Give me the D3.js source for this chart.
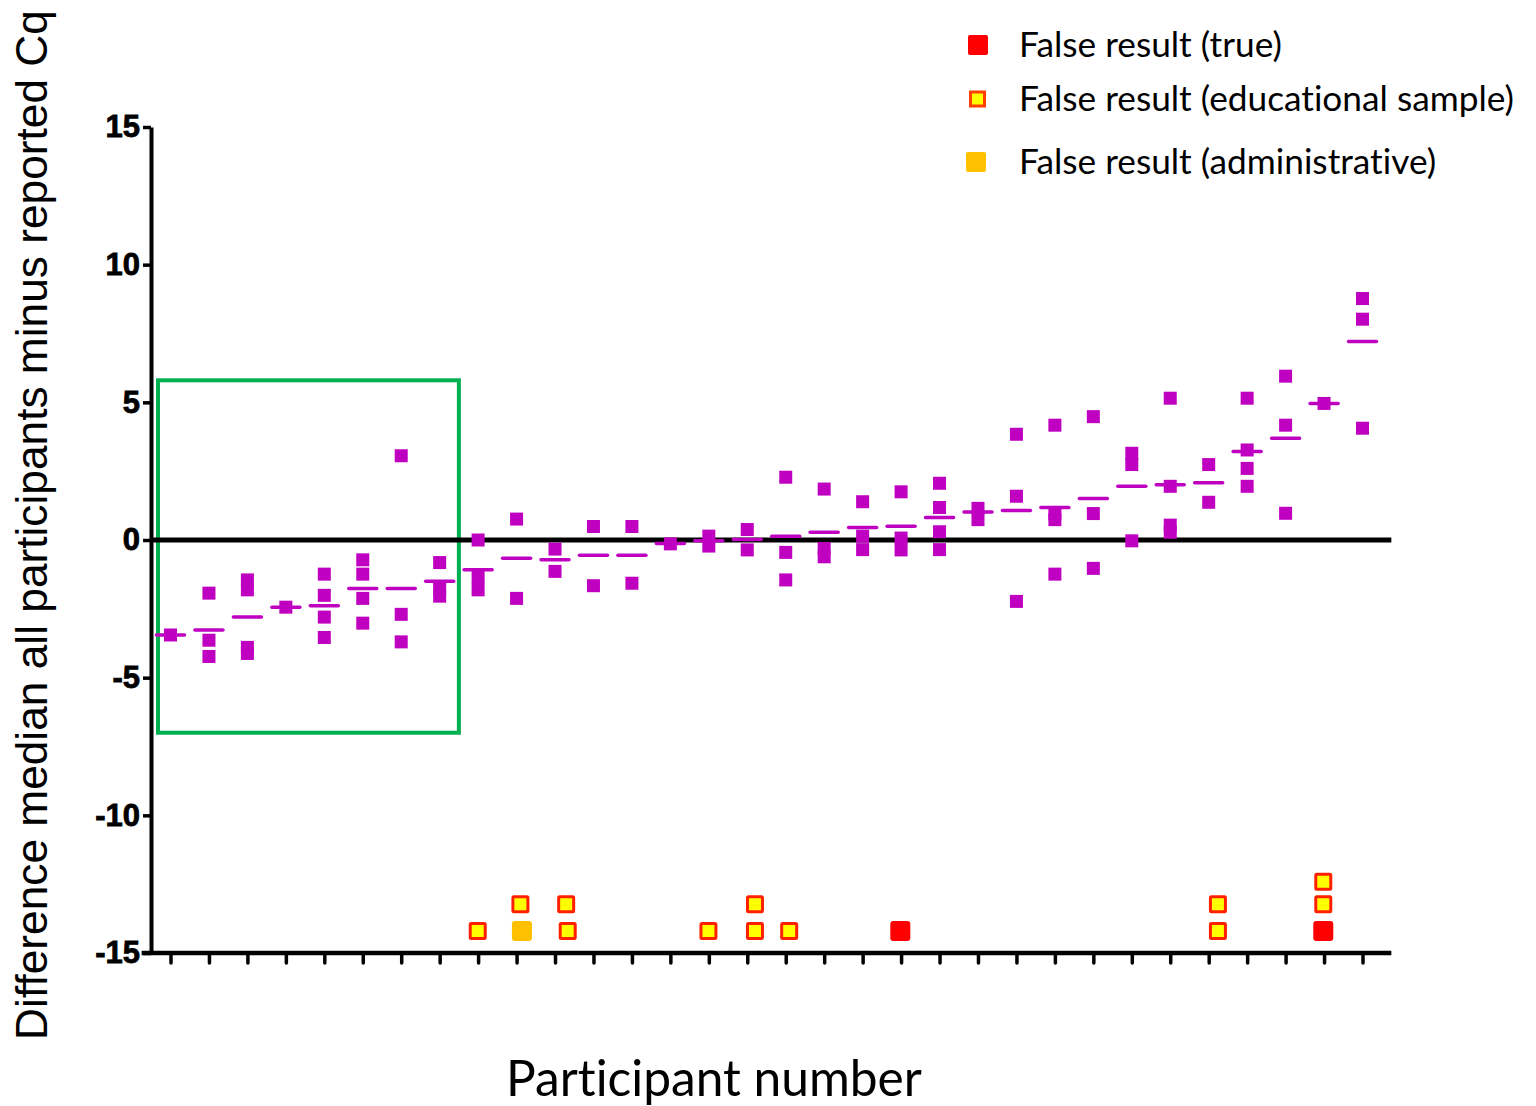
<!DOCTYPE html>
<html><head><meta charset="utf-8">
<script src="https://cdn.jsdelivr.net/npm/d3@7"></script>
<style>html,body{margin:0;padding:0;background:#fff;} svg{display:block;} text{font-variant-ligatures:none;font-feature-settings:"liga" 0,"clig" 0,"dlig" 0,"calt" 0,"hlig" 0;}</style>
</head><body>
<svg id="chart" width="1536" height="1106"></svg>
<script>
// ---------------- DATA ----------------
const participants = d3.range(1, 33);
const participantValues = [
  [-3.45],
  [-1.93, -3.64, -4.23],
  [-1.45, -1.81, -3.9, -4.12],
  [-2.44],
  [-1.24, -2.01, -2.8, -3.54],
  [-0.72, -1.24, -2.12, -3.02],
  [3.06, -2.7, -3.7],
  [-0.82, -1.77, -2.04],
  [0.0, -1.36, -1.81],
  [0.76, -2.12],
  [-0.33, -1.14],
  [0.49, -1.66],
  [0.49, -1.57],
  [-0.14],
  [0.14, -0.22],
  [0.38, -0.36],
  [2.28, -0.45, -1.45],
  [1.85, -0.31, -0.61],
  [1.39, 0.14, -0.35],
  [1.75, 0.07, -0.36],
  [2.06, 1.18, 0.3, -0.35],
  [1.15, 0.74],
  [3.84, 1.59, -2.23],
  [4.17, 0.95, 0.74, -1.24],
  [4.48, 0.96, -1.03],
  [3.15, 2.74, -0.03],
  [5.15, 1.95, 0.54, 0.28],
  [2.74, 1.37],
  [5.15, 3.27, 2.6, 1.95],
  [5.95, 4.17, 0.97],
  [4.96],
  [8.77, 8.02, 4.06]
];
const participantMedians = [
  -3.45, -3.27, -2.8, -2.44, -2.39, -1.76, -1.76, -1.5,
  -1.08, -0.66, -0.72, -0.55, -0.55, -0.13, -0.03, 0.02,
  0.14, 0.28, 0.45, 0.5, 0.82, 1.02, 1.07, 1.18,
  1.51, 1.95, 2.01, 2.08, 3.21, 3.7, 4.96, 7.21
];
// false results: [participant position, value]
const falseEducational = [
  [8.99, -14.2], [10.1, -13.23], [11.29, -13.23], [11.33, -14.2],
  [14.99, -14.2], [16.2, -13.23], [16.2, -14.2], [17.09, -14.2],
  [28.24, -13.23], [28.24, -14.2], [30.98, -13.23], [30.98, -12.41]
];
const falseTrue = [[19.98, -14.2], [30.98, -14.2]];
const falseAdministrative = [[10.14, -14.2]];
const yTicks = [-15, -10, -5, 0, 5, 10, 15];
const highlightBox = [0.675, 8.5, -7.0, 5.8]; // x from, x to, y from, y to
const legendLabels = ["False result (true)", "False result (educational sample)", "False result (administrative)"];
const yTitle = "Difference median all participants minus reported Cq";
const xTitle = "Participant number";

// ---------------- DRAW ----------------
const svg = d3.select("#chart");
svg.append("rect").attr("width", 1536).attr("height", 1106).attr("fill", "#fff");

const x = d3.scaleLinear().domain([1, 32]).range([170.5, 1362.5]);
const y = d3.scaleLinear().domain([-15, 15]).range([953, 127]);

const MAG = "#C000C0";
const NOLIG = 'font-variant-ligatures:none;font-feature-settings:"liga" 0,"clig" 0,"dlig" 0,"calt" 0;';

function fitText(sel, target) {
  const w = sel.node().getComputedTextLength();
  const fs = parseFloat(sel.attr("font-size"));
  sel.attr("font-size", fs * target / w);
  return fs * target / w;
}

// highlight box
svg.append("rect")
  .attr("x", x(highlightBox[0])).attr("y", y(highlightBox[3]))
  .attr("width", x(highlightBox[1]) - x(highlightBox[0]))
  .attr("height", y(highlightBox[2]) - y(highlightBox[3]))
  .attr("fill", "none").attr("stroke", "#00B050").attr("stroke-width", 4);

// zero line
svg.append("line")
  .attr("x1", x(0.5)).attr("x2", x(32.75))
  .attr("y1", y(0)).attr("y2", y(0))
  .attr("stroke", "#000").attr("stroke-width", 5);

// y axis
const yAxis = svg.append("g").attr("transform", "translate(151,0)")
  .call(d3.axisLeft(y).tickValues(yTicks).tickSize(8).tickSizeOuter(0).tickFormat(d => String(d)));
yAxis.select(".domain").attr("stroke-width", 4).attr("stroke", "#000");
yAxis.selectAll(".tick line").attr("stroke-width", 3.5).attr("stroke", "#000");
yAxis.selectAll(".tick text")
  .attr("x", -11).attr("font-family", "'Liberation Sans', Arial, sans-serif")
  .attr("font-weight", "bold").attr("font-size", 31).attr("fill", "#000")
  .attr("stroke", "#000").attr("stroke-width", 0.8);

// x axis
const xAxis = svg.append("g").attr("transform", "translate(0,953)")
  .call(d3.axisBottom(x).tickValues(participants).tickSize(10).tickSizeOuter(0).tickFormat(""));
xAxis.select(".domain").remove();
xAxis.selectAll(".tick line").attr("stroke-width", 3.5).attr("stroke", "#000").attr("stroke-linecap", "round");
svg.append("line")
  .attr("x1", x(0.25)).attr("x2", x(32.75))
  .attr("y1", 953).attr("y2", 953)
  .attr("stroke", "#000").attr("stroke-width", 4.5);

// points
const pts = participantValues.flatMap((vals, i) => vals.map(v => ({ p: participants[i], v })));
const S = 13;
svg.append("g").selectAll("rect").data(pts).join("rect")
  .attr("x", d => x(d.p) - S / 2).attr("y", d => y(d.v) - S / 2)
  .attr("width", S).attr("height", S).attr("fill", MAG);

// medians
svg.append("g").selectAll("line").data(participantMedians).join("line")
  .attr("x1", (d, i) => x(participants[i]) - 14).attr("x2", (d, i) => x(participants[i]) + 14)
  .attr("y1", d => y(d)).attr("y2", d => y(d))
  .attr("stroke", MAG).attr("stroke-width", 3.5).attr("stroke-linecap", "round");

// false results
svg.append("g").selectAll("rect").data(falseEducational).join("rect")
  .attr("x", d => x(d[0]) - 7.5).attr("y", d => y(d[1]) - 7.5)
  .attr("width", 15).attr("height", 15).attr("rx", 1)
  .attr("fill", "#FFFF00").attr("stroke", "#FF2000").attr("stroke-width", 3);
svg.append("g").selectAll("rect").data(falseTrue).join("rect")
  .attr("x", d => x(d[0]) - 10).attr("y", d => y(d[1]) - 10)
  .attr("width", 20).attr("height", 20).attr("rx", 3).attr("fill", "#FF0000");
svg.append("g").selectAll("rect").data(falseAdministrative).join("rect")
  .attr("x", d => x(d[0]) - 10).attr("y", d => y(d[1]) - 10)
  .attr("width", 20).attr("height", 20).attr("rx", 3).attr("fill", "#FFC000");

// y title
const yt = svg.append("text")
  .attr("transform", "translate(47,525) rotate(-90)")
  .attr("text-anchor", "middle")
  .attr("font-family", "'Liberation Sans', Arial, sans-serif")
  .attr("font-size", 44).attr("fill", "#000").text(yTitle);
fitText(yt, 1030);

// x title
const xt = svg.append("text")
  .attr("x", 714).attr("y", 1096).attr("text-anchor", "middle")
  .attr("style", NOLIG)
  .attr("font-family", "Lato, 'Open Sans', sans-serif")
  .attr("font-size", 48).attr("fill", "#000").text(xTitle);
fitText(xt, 416);

// legend
const legendY = [45, 99, 162];
const lg = svg.append("g");
lg.append("rect").attr("x", 968).attr("y", legendY[0] - 10).attr("width", 20).attr("height", 20).attr("rx", 2).attr("fill", "#FF0000");
lg.append("rect").attr("x", 970.5).attr("y", legendY[1] - 7).attr("width", 14).attr("height", 14)
  .attr("fill", "#FFFF00").attr("stroke", "#FF4000").attr("stroke-width", 3);
lg.append("rect").attr("x", 966).attr("y", legendY[2] - 10).attr("width", 20).attr("height", 20).attr("rx", 2).attr("fill", "#FFC000");
const lt = lg.selectAll("text").data(legendLabels).join("text")
  .attr("x", 1019).attr("y", (d, i) => legendY[i] + 12)
  .attr("style", NOLIG)
  .attr("font-family", "Lato, 'Open Sans', sans-serif")
  .attr("font-size", 34).attr("fill", "#000").text(d => d);
const fs = fitText(d3.select(lt.nodes()[1]), 495);
lt.attr("font-size", fs);
</script>
</body></html>
